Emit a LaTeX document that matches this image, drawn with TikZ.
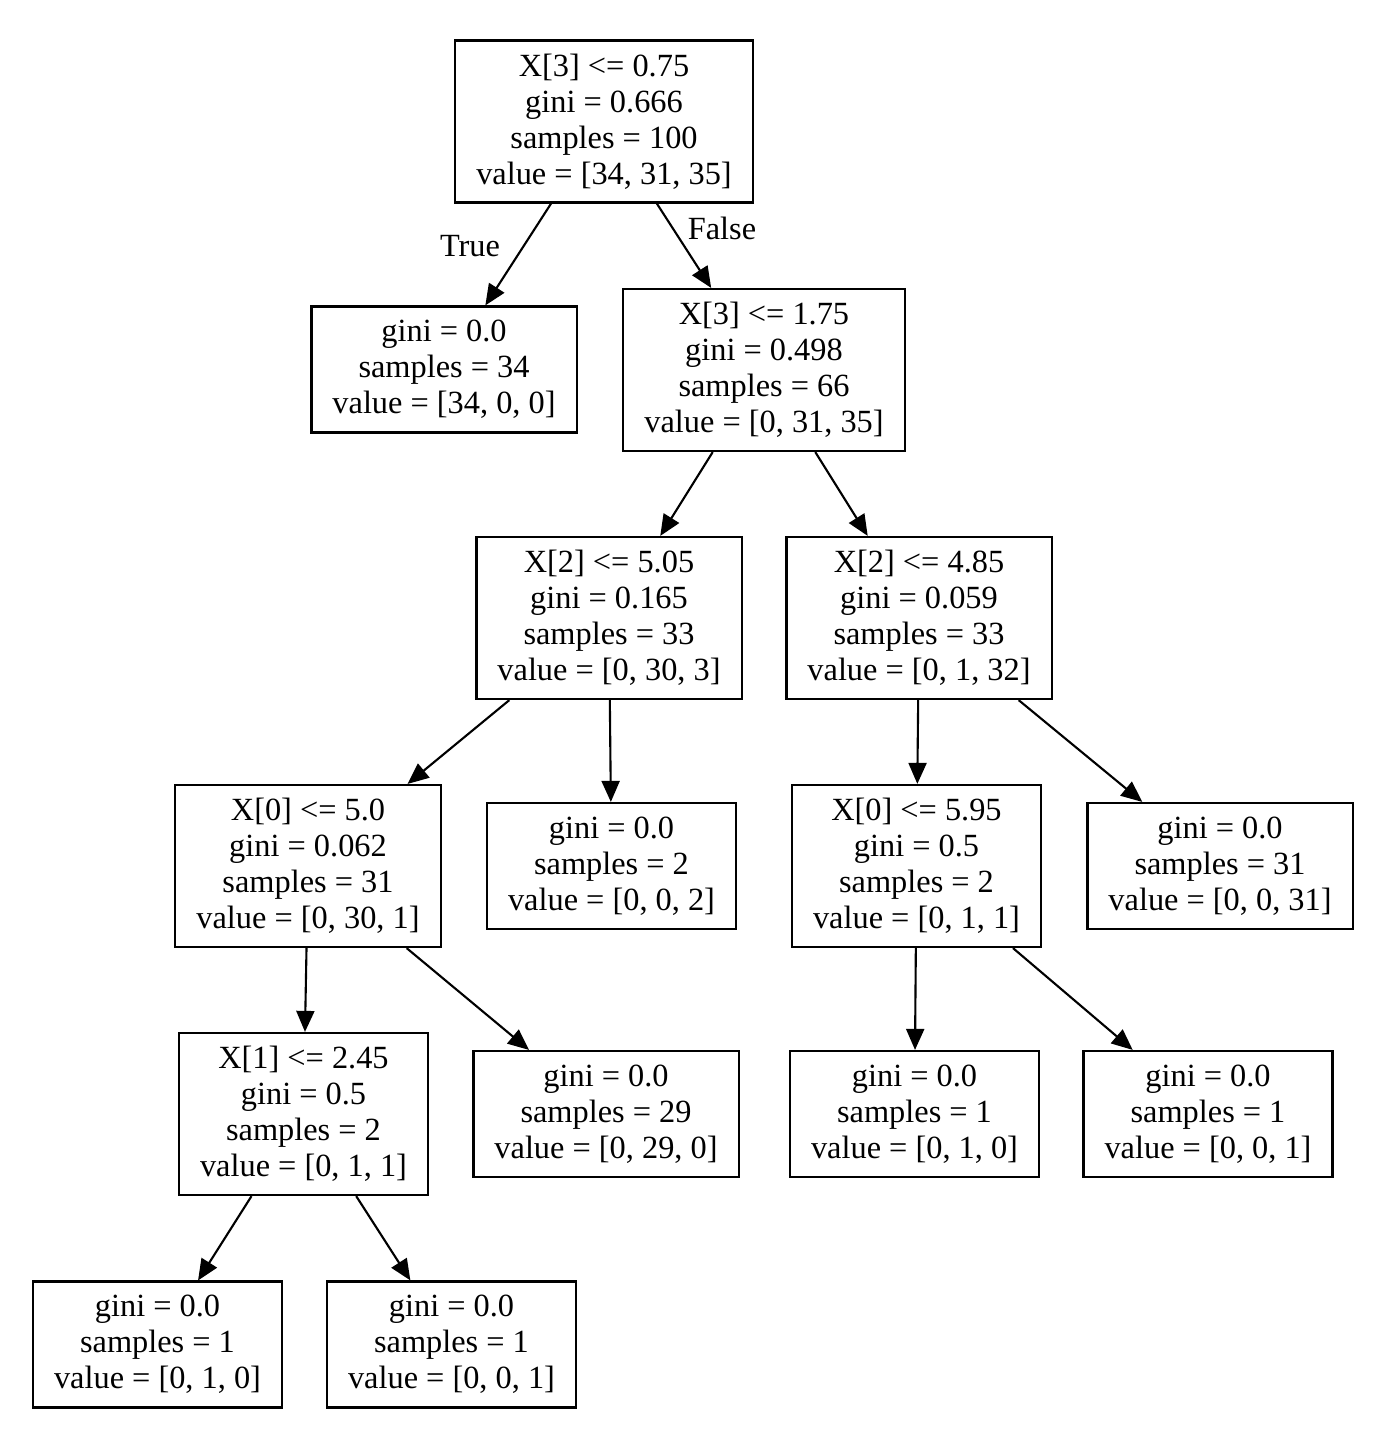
\documentclass[tikz,border=0pt]{standalone}
\usepackage{fontspec}
\setmainfont{Liberation Serif}
\usetikzlibrary{arrows.meta}

\tikzset{
  treebox/.style={draw, line width=0.6pt, align=center, inner xsep=0.21cm,
    font=\fontsize{9.2}{10.24}\selectfont},
  split/.style={treebox, minimum height=1.62cm},
  leaf/.style={treebox, minimum height=1.26cm},
  edge/.style={line width=0.6pt, -{Triangle[length=0.21cm, width=0.18cm]}},
  branch/.style={font=\fontsize{9.2}{10.24}\selectfont}
}

\begin{document}
\begin{tikzpicture}[x=0.01cm, y=-0.01cm]
      \useasboundingbox (0,0) rectangle (1386,1430);
      % level 0
      \node[split] (root) at (604,121.5) {X[3] <= 0.75\\gini = 0.666\\samples = 100\\value = [34, 31, 35]};
      % level 1
      \node[leaf] (l1) at (444,369.5) {gini = 0.0\\samples = 34\\value = [34, 0, 0]};
      \node[split] (n2) at (764,370) {X[3] <= 1.75\\gini = 0.498\\samples = 66\\value = [0, 31, 35]};
      % level 2
      \node[split] (n3) at (609,618) {X[2] <= 5.05\\gini = 0.165\\samples = 33\\value = [0, 30, 3]};
      \node[split] (n4) at (919,618) {X[2] <= 4.85\\gini = 0.059\\samples = 33\\value = [0, 1, 32]};
      % level 3
      \node[split] (n5) at (308,866) {X[0] <= 5.0\\gini = 0.062\\samples = 31\\value = [0, 30, 1]};
      \node[leaf] (l2) at (611.5,866) {gini = 0.0\\samples = 2\\value = [0, 0, 2]};
      \node[split] (n6) at (916.5,866) {X[0] <= 5.95\\gini = 0.5\\samples = 2\\value = [0, 1, 1]};
      \node[leaf] (l3) at (1220,866) {gini = 0.0\\samples = 31\\value = [0, 0, 31]};
      % level 4
      \node[split] (n7) at (303.5,1114) {X[1] <= 2.45\\gini = 0.5\\samples = 2\\value = [0, 1, 1]};
      \node[leaf] (l4) at (606,1114) {gini = 0.0\\samples = 29\\value = [0, 29, 0]};
      \node[leaf] (l5) at (914.5,1114) {gini = 0.0\\samples = 1\\value = [0, 1, 0]};
      \node[leaf] (l6) at (1208,1114) {gini = 0.0\\samples = 1\\value = [0, 0, 1]};
      % level 5
      \node[leaf] (l7) at (157.5,1344.5) {gini = 0.0\\samples = 1\\value = [0, 1, 0]};
      \node[leaf] (l8) at (451.5,1344.5) {gini = 0.0\\samples = 1\\value = [0, 0, 1]};

      \draw[edge] (root) -- (l1);
      \draw[edge] (root) -- (n2);
      \node[branch] (truelab) at (470,246) {True};
      \node[branch] (falselab) at (722,228) {False};
      \draw[edge] (n2) -- (n3);
      \draw[edge] (n2) -- (n4);
      \draw[edge] (n3) -- (n5);
      \draw[edge] (n3) -- (l2);
      \draw[edge] (n4) -- (n6);
      \draw[edge] (n4) -- (l3);
      \draw[edge] (n5) -- (n7);
      \draw[edge] (n5) -- (l4);
      \draw[edge] (n6) -- (l5);
      \draw[edge] (n6) -- (l6);
      \draw[edge] (n7) -- (l7);
      \draw[edge] (n7) -- (l8);
    \end{tikzpicture}
\end{document}
